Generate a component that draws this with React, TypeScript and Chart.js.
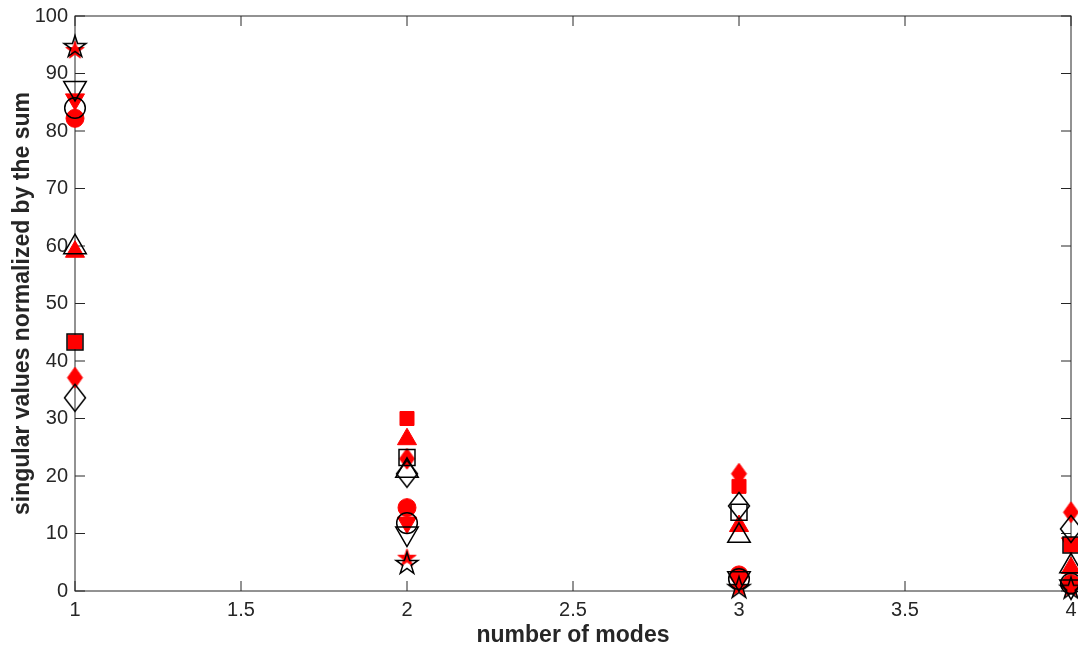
import React, { useEffect, useRef } from "react";
import { Chart, registerables } from "chart.js";

Chart.register(...registerables);

const modes = [1, 2, 3, 4];
const xTicks = [1, 1.5, 2, 2.5, 3, 3.5, 4];
const yTicks = [0, 10, 20, 30, 40, 50, 60, 70, 80, 90, 100];
const xTitle = "number of modes";
const yTitle = "singular values normalized by the sum";

const circleRed = [82.2, 14.5, 2.8, 1.3];
const circleBlack = [84.0, 11.8, 2.1, 1.3];
const squareRed = [43.3, 30.0, 18.2, 8.0];
const squareBlack = [43.3, 23.2, 13.7, 8.0];
const diamondRed = [37.1, 23.0, 20.4, 13.7];
const diamondBlack = [33.6, 20.4, 14.8, 10.8];
const upRed = [59.0, 26.4, 11.3, 4.0];
const upBlack = [59.8, 20.9, 9.6, 4.3];
const downRed = [85.5, 11.9, 2.0, 8.3];
const downBlack = [87.5, 10.0, 2.2, 0.8];
const starRed = [94.0, 5.7, 0.6, 0.5];
const starBlack = [94.6, 4.7, 0.5, 0.4];

const FONT = "'Liberation Sans', Arial, Helvetica, sans-serif";
const AXIS = "#262626";
const RED = "#ff0000";
const BLACK = "#000000";
const NONE = "rgba(0,0,0,0)";

function starCanvas(R: number, fill: string | null, stroke: string | null, lw: number) {
  const pad = lw + 2;
  const size = Math.ceil(2 * R + 2 * pad);
  const c = document.createElement("canvas");
  c.width = size;
  c.height = size;
  const ctx = c.getContext("2d")!;
  const cx = size / 2;
  const cy = size / 2;
  const r = R * 0.382;
  ctx.beginPath();
  for (let i = 0; i < 10; i++) {
    const ang = -Math.PI / 2 + (i * Math.PI) / 5;
    const rr = i % 2 === 0 ? R : r;
    const px = cx + rr * Math.cos(ang);
    const py = cy + rr * Math.sin(ang);
    if (i === 0) ctx.moveTo(px, py);
    else ctx.lineTo(px, py);
  }
  ctx.closePath();
  if (fill) {
    ctx.fillStyle = fill;
    ctx.fill();
  }
  if (stroke) {
    ctx.strokeStyle = stroke;
    ctx.lineWidth = lw;
    ctx.stroke();
  }
  return c;
}

function diamondCanvas(hw: number, hh: number, fill: string | null, stroke: string | null, lw: number) {
  const pad = lw + 2;
  const w = Math.ceil(2 * hw + 2 * pad);
  const h = Math.ceil(2 * hh + 2 * pad);
  const c = document.createElement("canvas");
  c.width = w;
  c.height = h;
  const ctx = c.getContext("2d")!;
  const cx = w / 2;
  const cy = h / 2;
  ctx.beginPath();
  ctx.moveTo(cx, cy - hh);
  ctx.lineTo(cx + hw, cy);
  ctx.lineTo(cx, cy + hh);
  ctx.lineTo(cx - hw, cy);
  ctx.closePath();
  if (fill) {
    ctx.fillStyle = fill;
    ctx.fill();
  }
  if (stroke) {
    ctx.strokeStyle = stroke;
    ctx.lineWidth = lw;
    ctx.stroke();
  }
  return c;
}

const boxPlugin = {
  id: "matlabBox",
  beforeDatasetsDraw(chart: any) {
    const { ctx, chartArea: a, scales } = chart;
    ctx.save();
    ctx.strokeStyle = AXIS;
    ctx.lineWidth = 1;
    ctx.strokeRect(a.left, a.top, a.right - a.left, a.bottom - a.top);
    const L = 10;
    ctx.beginPath();
    for (const v of xTicks) {
      const px = scales.x.getPixelForValue(v);
      ctx.moveTo(px, a.bottom);
      ctx.lineTo(px, a.bottom - L);
      ctx.moveTo(px, a.top);
      ctx.lineTo(px, a.top + L);
    }
    for (const v of yTicks) {
      const py = scales.y.getPixelForValue(v);
      ctx.moveTo(a.left, py);
      ctx.lineTo(a.left + L, py);
      ctx.moveTo(a.right, py);
      ctx.lineTo(a.right - L, py);
    }
    ctx.stroke();
    ctx.restore();
  },
};

const zeroPad = (s: any) => {
  s.paddingLeft = 0;
  s.paddingRight = 0;
  s.paddingTop = 0;
  s.paddingBottom = 0;
};

export default function App() {
  const ref = useRef<HTMLCanvasElement | null>(null);

  useEffect(() => {
    if (!ref.current) return;
    const toPts = (vals: number[]) => modes.map((x, i) => ({ x, y: vals[i] }));

    const starB = starCanvas(11.5, null, BLACK, 1.5);
    const starR = starCanvas(9.5, RED, RED, 1);
    const diaB = diamondCanvas(10.5, 13.5, null, BLACK, 1.5);
    const diaR = diamondCanvas(7.5, 10.5, RED, RED, 1);

    const red = (vals: number[], style: any, radius: number, rot = 0) => ({
      data: toPts(vals),
      pointStyle: style,
      pointRadius: radius,
      pointRotation: rot,
      backgroundColor: RED,
      borderColor: RED,
      pointBackgroundColor: RED,
      pointBorderColor: RED,
      pointBorderWidth: 1,
      showLine: false,
      clip: false as any,
      order: 1,
    });
    const black = (vals: number[], style: any, radius: number, rot = 0) => ({
      data: toPts(vals),
      pointStyle: style,
      pointRadius: radius,
      pointRotation: rot,
      backgroundColor: NONE,
      borderColor: BLACK,
      pointBackgroundColor: NONE,
      pointBorderColor: BLACK,
      pointBorderWidth: 1.5,
      showLine: false,
      clip: false as any,
      order: 0,
    });

    const chart = new Chart(ref.current, {
      type: "scatter",
      data: {
        datasets: [
          red(circleRed, "circle", 9),
          red(squareRed, "rect", 9.9),
          red(diamondRed, diaR, 9),
          red(upRed, "triangle", 11),
          red(downRed, "triangle", 11, 180),
          red(starRed, starR, 9),
          black(circleBlack, "circle", 10.3),
          black(squareBlack, "rect", 11.3),
          black(diamondBlack, diaB, 11),
          black(upBlack, "triangle", 13),
          black(downBlack, "triangle", 13, 180),
          black(starBlack, starB, 11),
        ] as any,
      },
      options: {
        animation: false,
        responsive: true,
        maintainAspectRatio: false,
        events: [],
        layout: { autoPadding: false, padding: { top: 16, right: 7, left: 0, bottom: 0 } },
        plugins: {
          legend: { display: false },
          tooltip: { enabled: false },
        },
        scales: {
          x: {
            type: "linear",
            min: 1,
            max: 4,
            grid: { display: false, drawTicks: false, tickLength: 0 },
            border: { display: false },
            afterBuildTicks: (s: any) => {
              s.ticks = xTicks.map((v) => ({ value: v }));
            },
            afterFit: (s: any) => {
              s.height = 60;
              zeroPad(s);
            },
            ticks: {
              padding: 7,
              color: AXIS,
              font: { family: FONT, size: 20 },
              maxRotation: 0,
              autoSkip: false,
              callback: (v: any) => String(v),
            },
            title: {
              display: true,
              text: xTitle,
              color: AXIS,
              font: { family: FONT, size: 23, weight: "bold" },
              padding: { top: 0, bottom: 2 },
            },
          },
          y: {
            type: "linear",
            min: 0,
            max: 100,
            grid: { display: false, drawTicks: false, tickLength: 0 },
            border: { display: false },
            afterBuildTicks: (s: any) => {
              s.ticks = yTicks.map((v) => ({ value: v }));
            },
            afterFit: (s: any) => {
              s.width = 75;
              zeroPad(s);
            },
            ticks: {
              padding: 7,
              color: AXIS,
              font: { family: FONT, size: 20 },
              autoSkip: false,
              callback: (v: any) => String(v),
            },
            title: {
              display: true,
              text: yTitle,
              color: AXIS,
              font: { family: FONT, size: 23, weight: "bold" },
              padding: { top: 9, bottom: 0 },
            },
          },
        },
      } as any,
      plugins: [boxPlugin],
    });
    return () => chart.destroy();
  }, []);

  return (
    <div
      style={{
        position: "fixed",
        left: 0,
        top: 0,
        width: 1078,
        height: 651,
        background: "#ffffff",
      }}
    >
      <canvas ref={ref} />
    </div>
  );
}
